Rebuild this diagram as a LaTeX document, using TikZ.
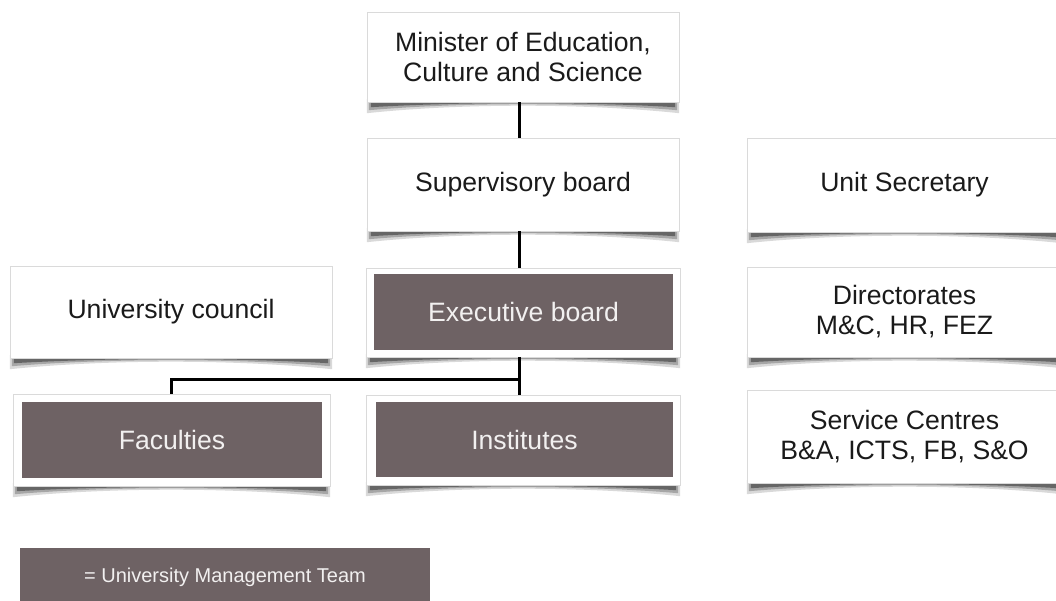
\documentclass[tikz,border=0pt]{standalone}
\usepackage{fontspec}
\setmainfont{Liberation Sans}
\usetikzlibrary{calc}
\definecolor{umt}{HTML}{6E6264}
\definecolor{boxedge}{HTML}{DADADA}
\definecolor{txt}{HTML}{1A1A1A}
\definecolor{umttxt}{HTML}{F2F0F0}
\tikzset{
  orgbox/.style={draw=boxedge, line width=0.8pt, fill=white, text=txt, align=center,
    inner sep=0pt, font=\fontsize{26.6}{30}\selectfont},
  umtbox/.style={fill=umt, text=umttxt, align=center, inner sep=0pt,
    font=\fontsize{26.6}{30}\selectfont},
  link/.style={line width=3pt, black},
  shadowlight/.style={fill=black!15},
  shadowmid/.style={fill=black!35},
  shadowdark/.style={fill=black!60}
}
\newcommand\curlshadow[1]{%
  \fill[shadowlight] ($(#1.south west)+(0,-3)$) -- ($(#1.south west)+(0,11)$)
    .. controls ($(#1.south west)!0.3!(#1.south east)+(0,1)$) and ($(#1.south west)!0.7!(#1.south east)+(0,1)$)
    .. ($(#1.south east)+(0,11)$) -- ($(#1.south east)+(0,-3)$) -- cycle;
  \fill[shadowmid] ($(#1.south west)+(2,-3)$) -- ($(#1.south west)+(2,8)$)
    .. controls ($(#1.south west)!0.3!(#1.south east)+(0,0)$) and ($(#1.south west)!0.7!(#1.south east)+(0,0)$)
    .. ($(#1.south east)+(-2,8)$) -- ($(#1.south east)+(-2,-3)$) -- cycle;
  \fill[shadowdark] ($(#1.south west)+(4,-3)$) -- ($(#1.south west)+(4,5)$)
    .. controls ($(#1.south west)!0.3!(#1.south east)+(0,-0.5)$) and ($(#1.south west)!0.7!(#1.south east)+(0,-0.5)$)
    .. ($(#1.south east)+(-4,5)$) -- ($(#1.south east)+(-4,-3)$) -- cycle;
}
\begin{document}
\begin{tikzpicture}[x=1pt, y=-1pt]
\useasboundingbox (0,0) rectangle (1056,600);
\clip (0,0) rectangle (1056,600);
\fill[white] (0,0) rectangle (1056,600);

% geometry anchor for the vertical spine
\coordinate (spine) at (519,0);

% placement nodes used to cast shadows first
\path
  (523,57)    node[minimum width=312, minimum height=90] (minP) {}
  (523,184.5) node[minimum width=312, minimum height=93] (supP) {}
  (904.5,185) node[minimum width=315, minimum height=94] (unitP) {}
  (171,312)   node[minimum width=322, minimum height=92] (counP) {}
  (523,312.5) node[minimum width=314, minimum height=89] (execP) {}
  (904.5,312) node[minimum width=315, minimum height=90] (dirP) {}
  (171.5,440) node[minimum width=317, minimum height=92] (facP) {}
  (523,440)   node[minimum width=314, minimum height=90] (instP) {}
  (904.5,436.5) node[minimum width=315, minimum height=93] (servP) {};
\foreach \n in {minP,supP,unitP,counP,execP,dirP,facP,instP,servP}{\curlshadow{\n}}

% boxes
\node[orgbox, minimum width=312, minimum height=90] (min) at (minP) {Minister of Education,\\Culture and Science};
\node[orgbox, minimum width=312, minimum height=93] (sup) at (supP) {Supervisory board};
\node[orgbox, minimum width=315, minimum height=94] (unit) at (unitP) {Unit Secretary};
\node[orgbox, minimum width=322, minimum height=92] (coun) at (counP) {University council};
\node[orgbox, minimum width=314, minimum height=89] (exec) at (execP) {};
\node[umtbox, minimum width=299, minimum height=76] (execin) at (523.5,312) {Executive board};
\node[orgbox, minimum width=315, minimum height=90] (dir) at (dirP) {Directorates\\M\&C, HR, FEZ};
\node[orgbox, minimum width=317, minimum height=92] (fac) at (facP) {};
\node[umtbox, minimum width=300, minimum height=76] (facin) at (172,440) {Faculties};
\node[orgbox, minimum width=314, minimum height=90] (inst) at (instP) {};
\node[umtbox, minimum width=297, minimum height=75] (instin) at (524.5,439.5) {Institutes};
\node[orgbox, minimum width=315, minimum height=93] (serv) at (servP) {Service Centres\\B\&A, ICTS, FB, S\&O};

% legend
\node[umtbox, minimum width=410, minimum height=58, font=\fontsize{20}{24}\selectfont] (legend) at (225,577) {= University Management Team};

% connectors
\coordinate (junc) at ($(spine|-exec.south)+(0,22)$);
\draw[link] (spine|-min.south) -- (spine|-sup.north);
\draw[link] (spine|-sup.south) -- (spine|-exec.north);
\draw[link] (spine|-exec.south) -- (spine|-inst.north);
\draw[link] ($(junc)+(1.5,0)$) -| (fac.north);
\end{tikzpicture}
\end{document}
